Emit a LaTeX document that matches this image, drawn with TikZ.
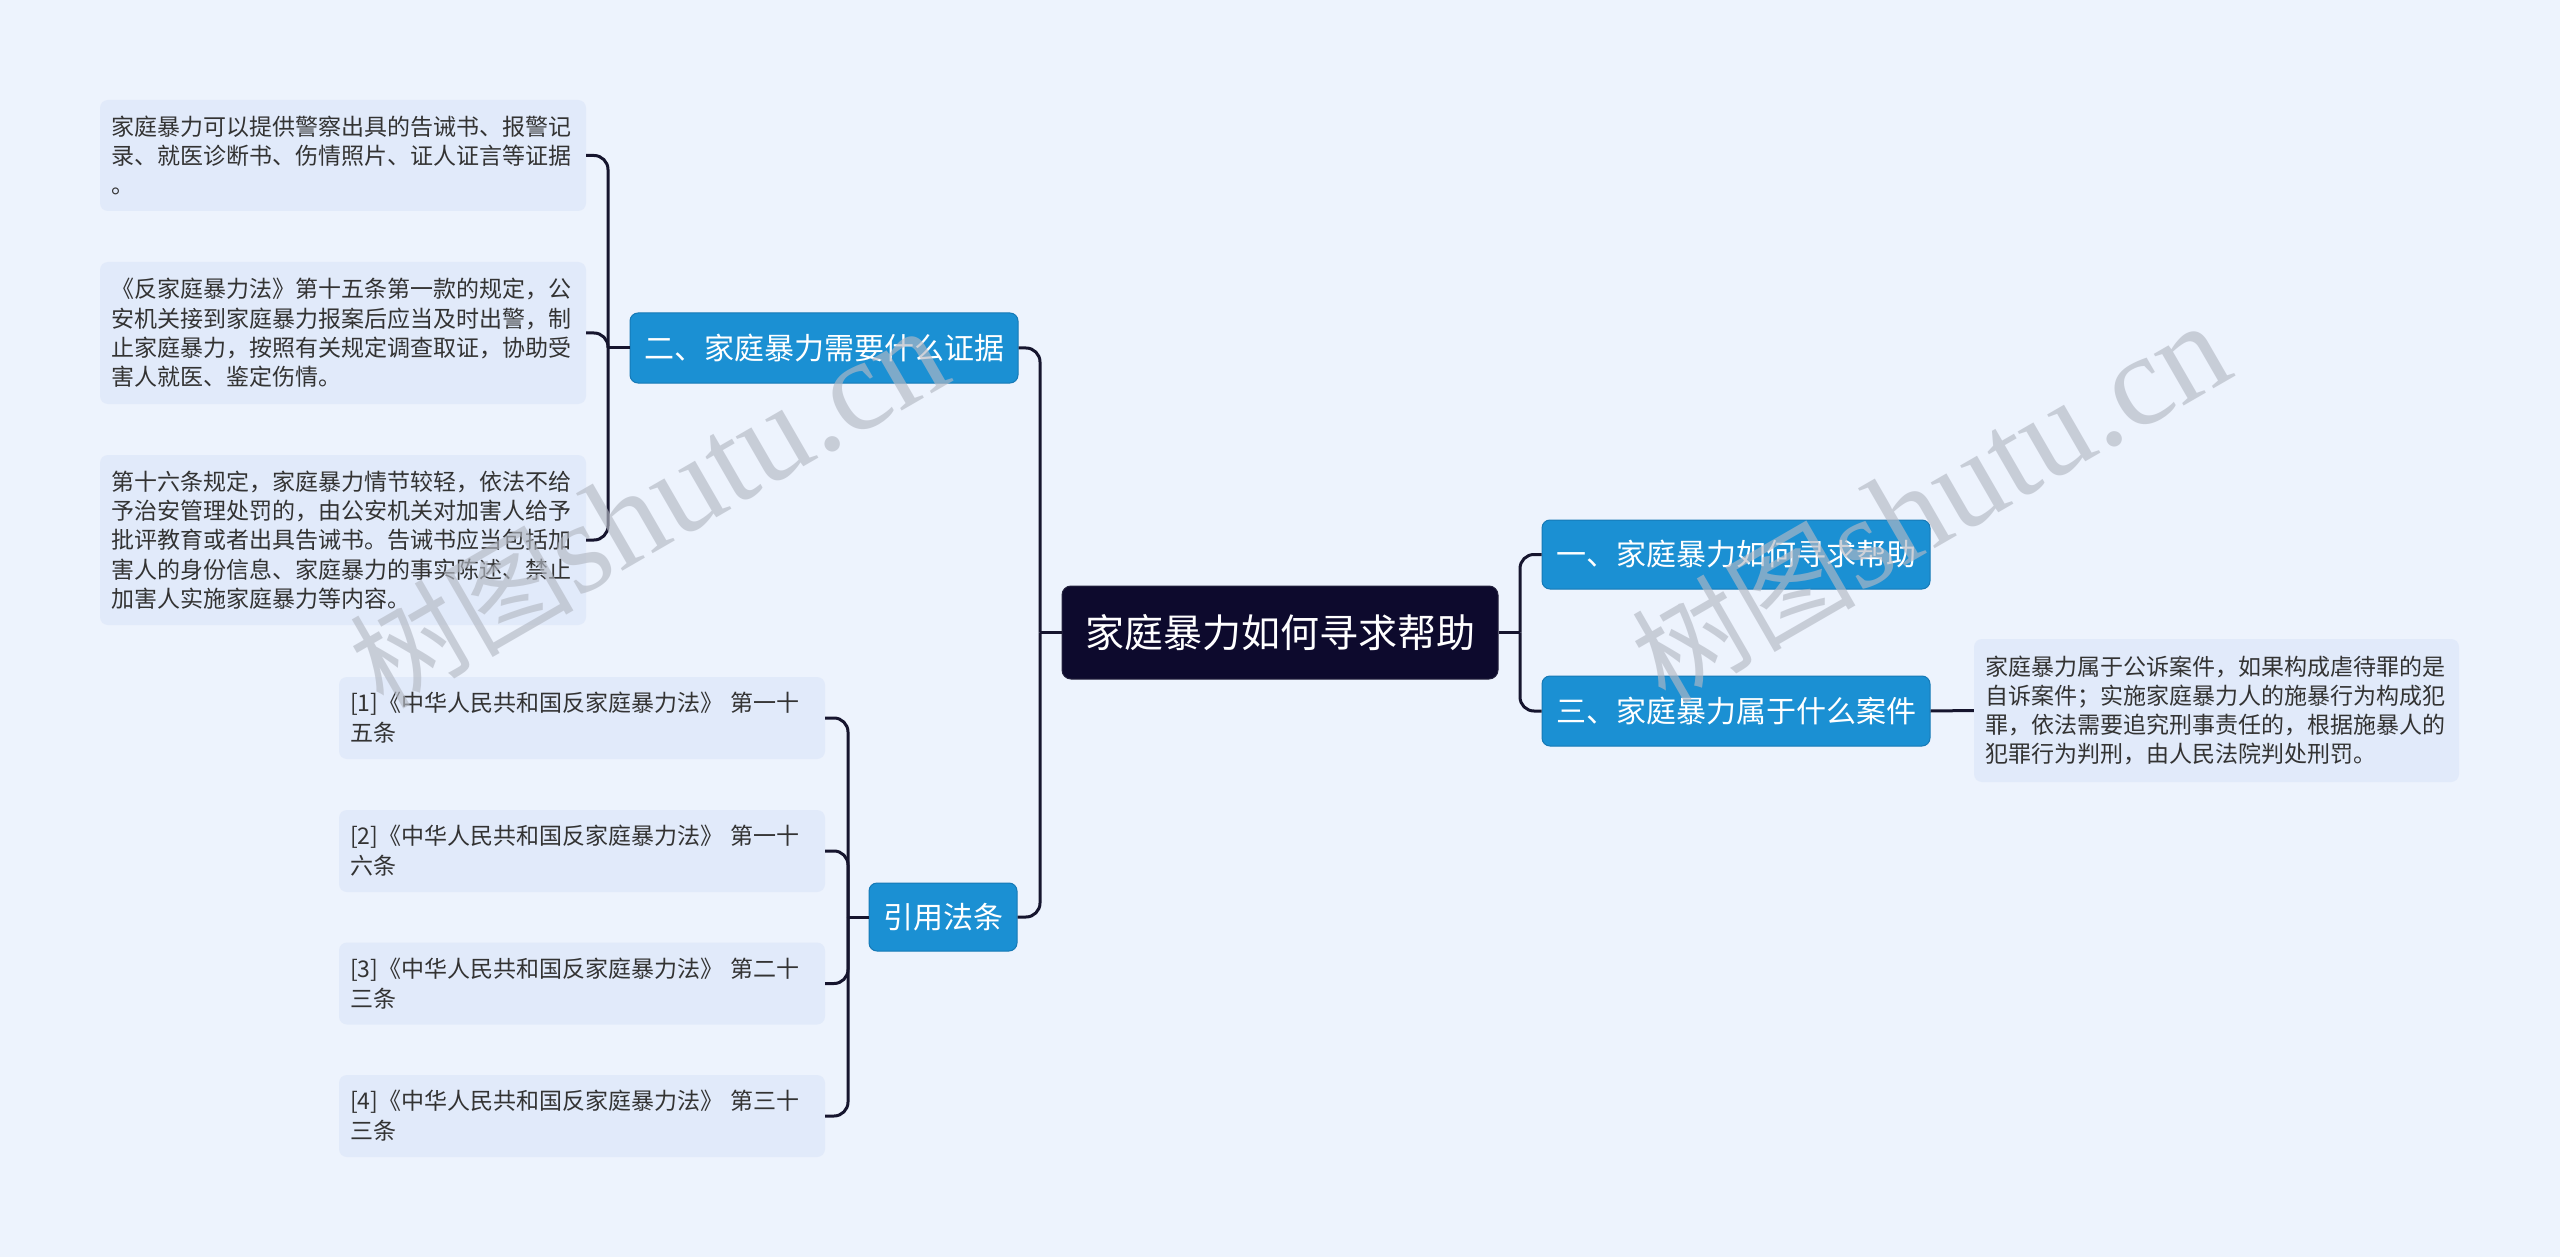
\documentclass[tikz,border=0pt]{standalone}
\usepackage{fontspec}
\setmainfont{Noto Sans CJK SC}
\newfontfamily\wmserif{Liberation Serif}
\definecolor{bgcol}{HTML}{EDF3FD}
\definecolor{leaffill}{HTML}{E1EAFA}
\definecolor{leaftext}{HTML}{333333}
\definecolor{bluefill}{HTML}{1B90D3}
\definecolor{bluedark}{HTML}{1679B6}
\definecolor{rootfill}{HTML}{0D0A2D}
\definecolor{linecol}{HTML}{16152E}
\definecolor{wmcol}{HTML}{B4B9C4}
\tikzset{
  leafbox/.style={rounded corners=8pt, fill=leaffill, text=leaftext,
    font=\fontsize{23}{29.3}\selectfont, align=left, inner xsep=11pt, inner ysep=6pt,
    text width=464pt, minimum width=486pt},
  refbox/.style={leafbox, font=\fontsize{23}{30}\selectfont},
  branchbox/.style={rounded corners=8pt, fill=bluefill, draw=bluedark, line width=1pt,
    text=white, font=\fontsize{30}{36}\selectfont, inner xsep=0pt, inner ysep=0pt},
  rootbox/.style={rounded corners=9pt, fill=rootfill, draw=rootfill!80!gray, line width=1pt,
    text=white, font=\fontsize{39}{46}\selectfont, inner sep=0pt,
    minimum width=436pt, minimum height=93pt},
  conn/.style={draw=linecol, line width=3pt, rounded corners=14pt},
  wmtext/.style={text=wmcol, opacity=0.65, inner sep=0pt}
}
\begin{document}
\begin{tikzpicture}[x=1pt,y=-1pt]
\useasboundingbox (0,0) rectangle (2560,1257);
\fill[bgcol] (0,0) rectangle (2560,1257);

% root
\node[rootbox] (root) at (1280,632.5) {家庭暴力如何寻求帮助};

% main branches
\node[branchbox, minimum width=388pt, minimum height=70pt] (b2) at (824,348) {二、家庭暴力需要什么证据};
\node[branchbox, minimum width=148pt, minimum height=68pt] (bref) at (943,917) {引用法条};
\node[branchbox, minimum width=388pt, minimum height=69pt] (b1) at (1736,554.5) {一、家庭暴力如何寻求帮助};
\node[branchbox, minimum width=388pt, minimum height=70pt] (b3) at (1736,711) {三、家庭暴力属于什么案件};

% leaves of b2
\node[leafbox, minimum height=111pt] (L1) at (343,155.5) {家庭暴力可以提供警察出具的告诫书、报警记\\录、就医诊断书、伤情照片、证人证言等证据\\。};
\node[leafbox, minimum height=142pt] (L2) at (343,333) {《反家庭暴力法》第十五条第一款的规定，公\\安机关接到家庭暴力报案后应当及时出警，制\\止家庭暴力，按照有关规定调查取证，协助受\\害人就医、鉴定伤情。};
\node[leafbox, minimum height=170pt] (L3) at (343,540) {第十六条规定，家庭暴力情节较轻，依法不给\\予治安管理处罚的，由公安机关对加害人给予\\批评教育或者出具告诫书。告诫书应当包括加\\害人的身份信息、家庭暴力的事实陈述、禁止\\加害人实施家庭暴力等内容。};

% references
\node[refbox, minimum height=82pt] (R1) at (582,718) {[1]《中华人民共和国反家庭暴力法》~第一十\\五条};
\node[refbox, minimum height=82pt] (R2) at (582,851) {[2]《中华人民共和国反家庭暴力法》~第一十\\六条};
\node[refbox, minimum height=82pt] (R3) at (582,983.5) {[3]《中华人民共和国反家庭暴力法》~第二十\\三条};
\node[refbox, minimum height=82pt] (R4) at (582,1116) {[4]《中华人民共和国反家庭暴力法》~第三十\\三条};

% leaf of b3
\node[leafbox, text width=463pt, minimum width=485pt, minimum height=143pt] (RT) at (2216.5,710.5) {家庭暴力属于公诉案件，如果构成虐待罪的是\\自诉案件；实施家庭暴力人的施暴行为构成犯\\罪，依法需要追究刑事责任的，根据施暴人的\\犯罪行为判刑，由人民法院判处刑罚。};

% junctions
\coordinate (jL) at (1040,632.5);
\coordinate (jR) at (1520,632.5);
\coordinate (j2) at (608,348);
\coordinate (jr) at (848,917);

% connectors
\draw[conn] (root.west) -- (jL);
\draw[conn] (jL) |- (b2.east);
\draw[conn] (jL) |- (bref.east);
\draw[conn] (root.east) -- (jR);
\draw[conn] (jR) |- (b1.west);
\draw[conn] (jR) |- (b3.west);

\draw[conn] (b2.west) -- (j2);
\draw[conn] (j2) |- (L1.east);
\draw[conn] (j2) |- (L2.east);
\draw[conn] (j2) |- (L3.east);

\draw[conn] (bref.west) -- (jr);
\draw[conn] (jr) |- (R1.east);
\draw[conn] (jr) |- (R2.east);
\draw[conn] (jr) |- (R3.east);
\draw[conn] (jr) |- (R4.east);

\draw[conn] (b3.east) -- (RT.west);

% watermarks
\node[wmtext, rotate=30] (wm1) at (648,508) {{\fontsize{112}{118}\selectfont 树图}{\wmserif\fontsize{130}{136}\selectfont shutu.cn}};
\node[wmtext, rotate=30] (wm2) at (1930,503) {{\fontsize{112}{118}\selectfont 树图}{\wmserif\fontsize{130}{136}\selectfont shutu.cn}};
\end{tikzpicture}
\end{document}
